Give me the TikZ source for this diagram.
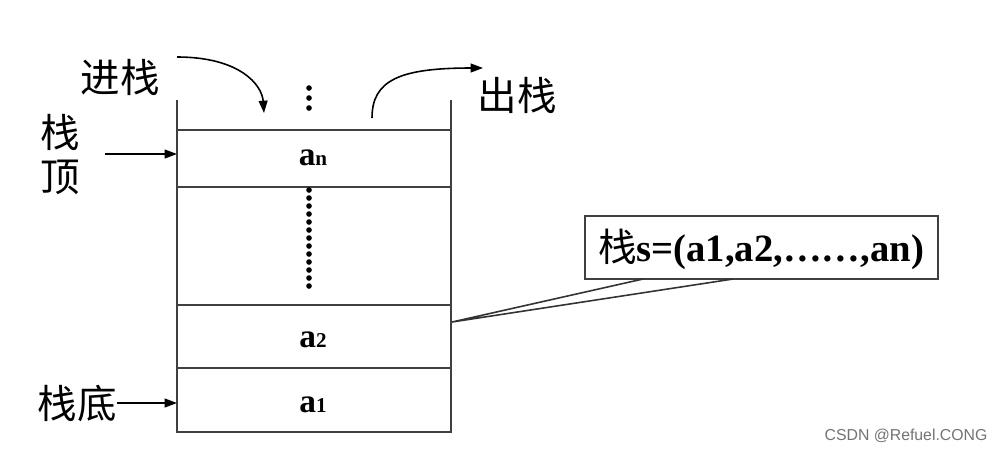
\documentclass[tikz,border=0pt]{standalone}
\usepackage{fontspec}
\setmainfont{Liberation Serif}
\newfontfamily\cjk{Noto Sans CJK SC}
\newfontfamily\wm{Liberation Sans}
\usetikzlibrary{arrows.meta}
\begin{document}
\begin{tikzpicture}[x=0.02cm,y=-0.02cm,
  wall/.style={line width=1.1pt,draw=black!75},
  lbl/.style={font=\cjk\fontsize{22.5}{24}\selectfont,inner sep=0pt},
  elem/.style={font=\bfseries\fontsize{19}{21}\selectfont,inner sep=0pt},
  arr/.style={line width=0.9pt,-{Triangle[length=7pt,width=5pt]}},
  dotv/.style={fill=black,circle,inner sep=0pt,minimum size=3.2pt}]
\useasboundingbox (0,0) rectangle (999,451);
% stack walls and separators
\draw[wall] (177,100) -- (177,432) -- (451,432) -- (451,100);
\draw[wall] (177,130) -- (451,130);
\draw[wall] (177,187) -- (451,187);
\draw[wall] (177,305) -- (451,305);
\draw[wall] (177,368) -- (451,368);
% elements
\node[elem] (an) at (313,158) {a\fontsize{12}{14}\selectfont n};
\node[elem] (a2) at (313,340) {a\fontsize{12}{14}\selectfont 2};
\node[elem] (a1) at (313,405) {a\fontsize{12}{14}\selectfont 1};
% dots
\foreach \y in {88,98,108} \node[dotv] at (309,\y) {};
\foreach \y in {190,198,...,286} \node[dotv] at (309,\y) {};
% labels
\node[lbl] (push) at (120,77) {进栈};
\node[lbl] (pop) at (517,95) {出栈};
\node[lbl] (top1) at (60,132) {栈};
\node[lbl] (top2) at (60,177) {顶};
\node[lbl] (bot) at (77,403) {栈底};
% arrow coordinates
\coordinate (pushS) at (177,57);
\coordinate (pushE) at (264,113);
\coordinate (popS) at (372,118);
\coordinate (popE) at (483,68);
\coordinate (topS) at (105,154);
\coordinate (topE) at (177,154);
\coordinate (botE) at (177,403);
\draw[arr] (pushS) .. controls (240,57) and (262,85) .. (pushE);
\draw[arr] (popS) .. controls (372,80) and (400,68) .. (popE);
\draw[arr] (topS) -- (topE);
\draw[arr] (bot.east) -- (botE);
% definition box
\node[draw=black!75,line width=0.9pt,minimum width=7.06cm,minimum height=1.26cm,inner sep=0pt] (box) at (761.5,247.5) {};
\node[inner sep=0pt,font=\bfseries\fontsize{22}{24}\selectfont] (deftext) at (761,249)
  {{\cjk\mdseries 栈}s=(a1,a2,……,an)};
\coordinate (tip) at (452,322);
\coordinate (c1) at (643,279);
\coordinate (c2) at (733,279);
\draw[line width=0.9pt,black!80] (c1) -- (tip) -- (c2);
% watermark
\node[font=\wm\fontsize{9}{11}\selectfont,text=black!55,inner sep=0pt] (wmark) at (906,436) {CSDN @Refuel.CONG};
\end{tikzpicture}
\end{document}
